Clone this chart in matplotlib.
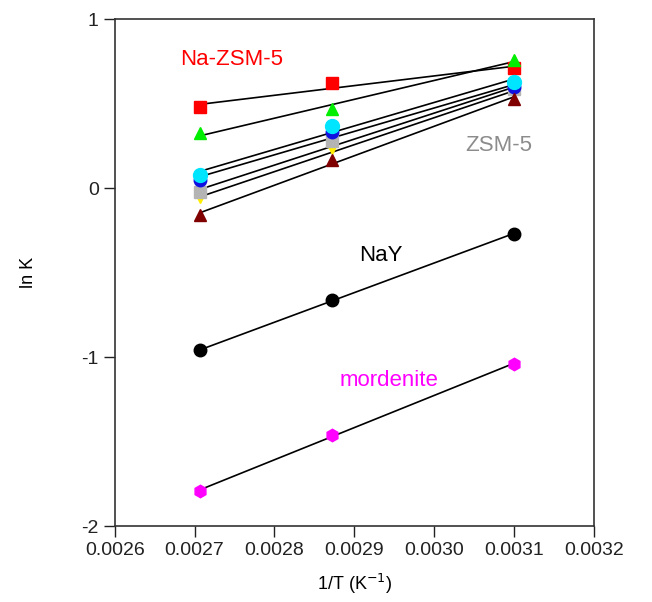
import numpy as np
import matplotlib.pyplot as plt

plt.rcParams['font.family'] = ['Liberation Sans', 'DejaVu Sans']
plt.rcParams['axes.unicode_minus'] = False

# inverse temperature (1/K)
inv_T = np.array([0.002707, 0.002872, 0.003100])

# ln K for each zeolite sample
ln_k_na_zsm5 = [0.48, 0.62, 0.71]
ln_k_green = [0.325, 0.47, 0.76]
ln_k_yellow = [-0.06, 0.23, 0.57]
ln_k_gray = [-0.025, 0.28, 0.585]
ln_k_blue = [0.05, 0.33, 0.60]
ln_k_cyan = [0.077, 0.37, 0.63]
ln_k_darkred = [-0.16, 0.17, 0.53]
ln_k_nay = [-0.96, -0.66, -0.27]
ln_k_mordenite = [-1.79, -1.46, -1.04]

series = [
    (ln_k_na_zsm5, 's', 'red', 8),
    (ln_k_green, '^', '#00ee00', 9),
    (ln_k_yellow, 'v', '#ffee00', 7),
    (ln_k_gray, 's', '#b4b4b4', 8),
    (ln_k_blue, 'o', '#1010e0', 9),
    (ln_k_cyan, 'o', '#00e5ff', 10),
    (ln_k_darkred, '^', '#800000', 9),
    (ln_k_nay, 'o', 'black', 9),
    (ln_k_mordenite, 'h', '#ff00ff', 9),
]

fig = plt.figure(figsize=(6.52, 6.02), dpi=100)
ax = fig.add_axes([0.176, 0.126, 0.735, 0.842])

xfit = np.array([inv_T[0], inv_T[-1]])
for y, m, c, ms in series:
    slope, icpt = np.polyfit(inv_T, y, 1)
    ax.plot(xfit, slope * xfit + icpt, color='black', lw=1.2, zorder=2)
for y, m, c, ms in series:
    ax.plot(inv_T, y, linestyle='none', marker=m, color=c, markersize=ms,
            markeredgecolor=c, zorder=3)

ax.text(0.002746, 0.76, 'Na-ZSM-5', color='red', fontsize=16, ha='center', va='center')
ax.text(0.003081, 0.255, 'ZSM-5', color='#8c8c8c', fontsize=16, ha='center', va='center')
ax.text(0.002933, -0.40, 'NaY', color='black', fontsize=16, ha='center', va='center')
ax.text(0.002943, -1.14, 'mordenite', color='#ff00ff', fontsize=16, ha='center', va='center')

ax.set_xlim(0.0026, 0.0032)
ax.set_ylim(-2, 1)
ax.set_xticks(np.arange(0.0026, 0.00321, 0.0001))
ax.set_xticklabels(['0.0026', '0.0027', '0.0028', '0.0029', '0.0030', '0.0031', '0.0032'])
ax.set_yticks([-2, -1, 0, 1])
ax.tick_params(direction='out', length=8, width=1, labelsize=14, colors='#222222')
for s in ax.spines.values():
    s.set_linewidth(1.2)
    s.set_color('#333333')

ax.set_xlabel('1/T (K$^{-1}$)', fontsize=13, labelpad=9)
ax.set_ylabel('ln K', fontsize=13, labelpad=32)

fig.savefig('out.png', dpi=100)
